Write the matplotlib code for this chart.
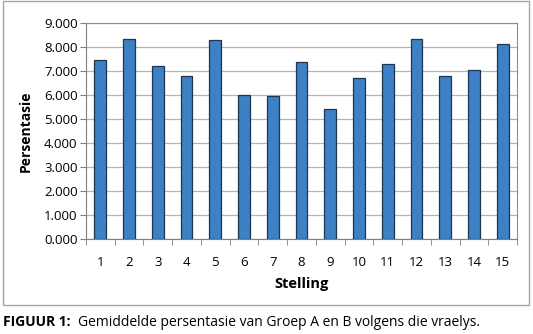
import matplotlib

matplotlib.use("Agg")
import matplotlib.pyplot as plt
from matplotlib.patches import Rectangle
from matplotlib.ticker import FixedLocator, FuncFormatter

# data
stellings = list(range(1, 16))
persentasie = [7.44, 8.32, 7.21, 6.80, 8.29, 6.00, 5.95, 7.37,
               5.40, 6.70, 7.28, 8.33, 6.80, 7.02, 8.11]
y_ticks = [0, 1, 2, 3, 4, 5, 6, 7, 8, 9]

plt.rcParams["font.family"] = ["Open Sans", "DejaVu Sans"]

fig = plt.figure(figsize=(5.33, 3.34), dpi=100)
fig.patches.append(Rectangle((3 / 533, 1 - 305 / 334), 526 / 533, 304 / 334,
                             transform=fig.transFigure, fill=False,
                             edgecolor="#a6a6a6", linewidth=1.0))

ax = fig.add_axes([86 / 533, 1 - 239.3 / 334, 431 / 533, 216.6 / 334])
ax.bar(stellings, persentasie, width=0.41, color="#3d80c3",
       edgecolor="#1c3553", linewidth=0.9, zorder=3)

ax.set_xlim(0.5, 15.5)
ax.set_ylim(0, 9)
ax.set_yticks(y_ticks)
ax.yaxis.set_major_formatter(FuncFormatter(lambda v, _: f"{v:.3f}"))
ax.set_xticks(stellings)
ax.xaxis.set_minor_locator(FixedLocator([i + 0.5 for i in range(0, 16)]))
ax.tick_params(axis="x", which="major", length=0, pad=12, labelsize=9.5)
ax.tick_params(axis="x", which="minor", length=4, color="#808080", direction="out")
ax.tick_params(axis="y", length=4, color="#808080", labelsize=9.5, pad=2)

ax.grid(axis="y", color="#b4b4b4", linewidth=0.9, zorder=0)
for side in ["left", "bottom"]:
    ax.spines[side].set_color("#808080")
for side in ["top", "right"]:
    ax.spines[side].set_color("#8c8c8c")

ax.set_ylabel("Persentasie", fontsize=10, fontweight="bold", labelpad=8)
ax.set_xlabel("Stelling", fontsize=10.5, fontweight="bold", labelpad=6)

fig.text(3 / 533, 1 - 322 / 334, "FIGUUR 1:", fontsize=10, fontweight="bold",
         va="center", ha="left")
fig.text(78 / 533, 1 - 322 / 334, "Gemiddelde persentasie van Groep A en B volgens die vraelys.",
         fontsize=10, va="center", ha="left")

fig.savefig("out.png", dpi=100)
